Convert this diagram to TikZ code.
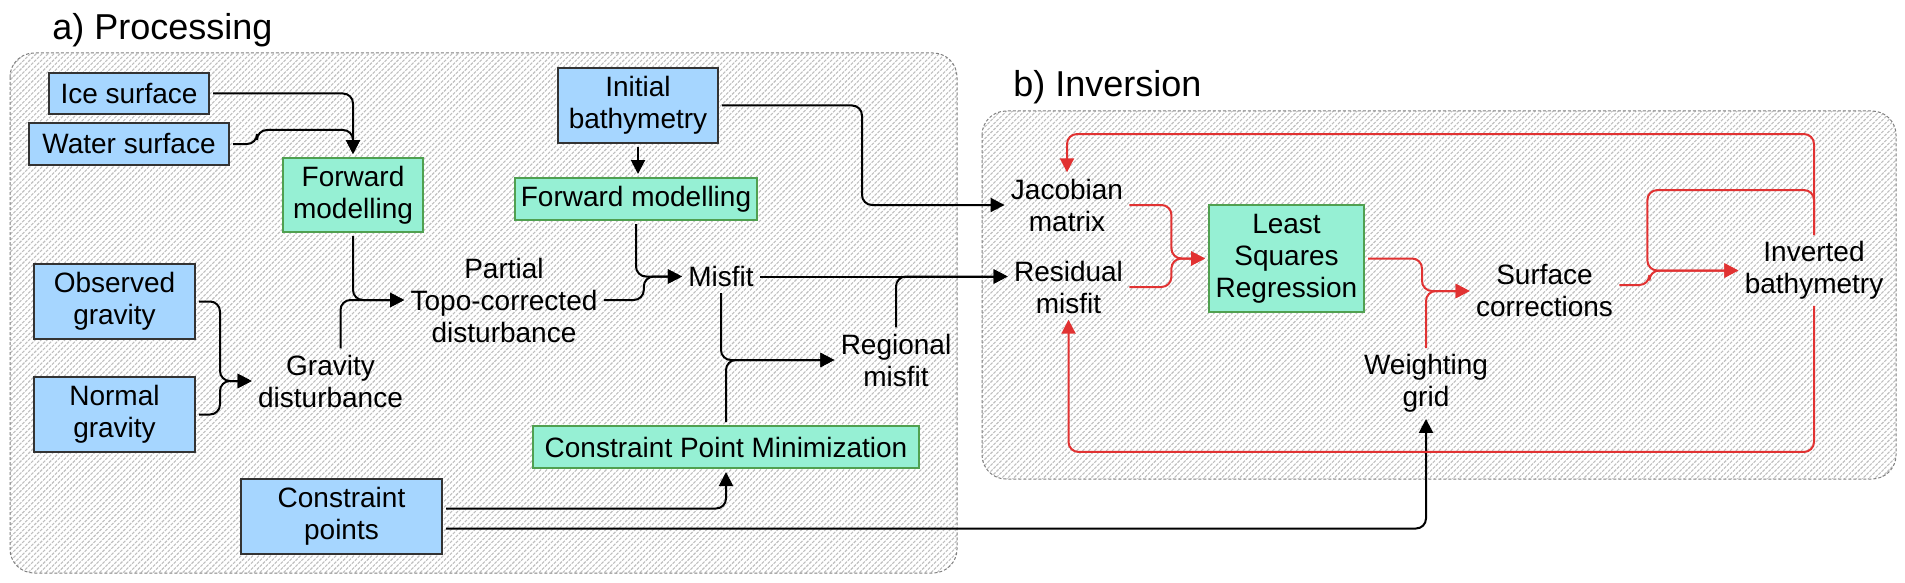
\documentclass[tikz,border=0pt]{standalone}
\usepackage{fontspec}
\setmainfont{Liberation Sans}
\usetikzlibrary{arrows.meta,patterns.meta}

\definecolor{inblue}{RGB}{166,214,255}
\definecolor{procgreen}{RGB}{150,240,212}
\definecolor{procedge}{RGB}{80,160,80}
\definecolor{loopred}{RGB}{225,50,50}

\begin{document}
\begin{tikzpicture}[x=0.5pt,y=-0.5pt,
	txt/.style={font=\fontsize{14}{16}\selectfont, align=center},
	inbox/.style={txt, draw=black!80, fill=inblue, line width=0.6pt, inner sep=2pt, outer sep=2pt},
	procbox/.style={txt, draw=procedge, fill=procgreen, line width=0.6pt, inner sep=2pt, outer sep=2pt},
	lbl/.style={txt, inner sep=3pt},
	arr/.style={line width=1pt, rounded corners=5pt, -{Triangle[length=7pt,width=7pt]}},
	redarr/.style={arr, draw=loopred},
	group/.style={draw=gray, dash pattern=on 1.5pt off 1pt, line width=0.5pt, rounded corners=12pt,
		pattern={Lines[angle=45,distance=2.1pt,line width=0.55pt]}, pattern color=gray!50},
	grouptitle/.style={font=\fontsize{18}{20}\selectfont, anchor=base west, inner sep=0pt}]
	\useasboundingbox (0,0) rectangle (1905,583);
	
	% groups
	\draw[group] (10,53) rectangle (957,573);
	\draw[group] (982,111) rectangle (1896,479);
	\node[grouptitle] (titleA) at (52,40) {a) Processing};
	\node[grouptitle] (titleB) at (1013,97) {b) Inversion};
	
	% inputs
	\node[inbox, minimum width=80pt, minimum height=20.5pt] (ice) at (129,93.5) {Ice surface};
	\node[inbox, minimum width=100pt, minimum height=21pt] (water) at (129,144) {Water surface};
	\node[inbox, minimum width=80.5pt, minimum height=37.5pt] (obs) at (114.5,301.5) {Observed\\gravity};
	\node[inbox, minimum width=80.5pt, minimum height=37.5pt] (normal) at (114.5,414.5) {Normal\\gravity};
	\node[inbox, minimum width=100.5pt, minimum height=37.5pt] (cpts) at (341.5,516.5) {Constraint\\points};
	\node[inbox, minimum width=80pt, minimum height=37.5pt] (init) at (638,105.5) {Initial\\bathymetry};
	
	% processes
	\node[procbox, minimum width=70pt, minimum height=37pt] (fwdA) at (353,195) {Forward\\modelling};
	\node[procbox, minimum width=121pt, minimum height=21pt] (fwdB) at (636,199) {Forward modelling};
	\node[procbox, minimum width=193pt, minimum height=21pt] (cpm) at (726,447) {Constraint Point Minimization};
	\node[procbox, minimum width=77.5pt, minimum height=53.5pt] (lsr) at (1286.5,258.5) {Least\\Squares\\Regression};
	
	% intermediate results
	\node[lbl] (gdist) at (330.5,381) {Gravity\\disturbance};
	\node[lbl] (ptc) at (504,300) {Partial\\Topo-corrected\\disturbance};
	\node[lbl] (misfit) at (721,276.5) {Misfit};
	\node[lbl] (regional) at (896,360) {Regional\\misfit};
	\node[lbl] (jac) at (1067,205) {Jacobian\\matrix};
	\node[lbl] (resid) at (1068.5,287) {Residual\\misfit};
	\node[lbl] (surf) at (1544.5,291) {Surface\\corrections};
	\node[lbl] (invb) at (1814,270.5) {Inverted\\bathymetry};
	\node[lbl] (weight) at (1426,383.5) {Weighting\\grid};
	
	% processing connectors
	\draw[arr] (ice.east) -| (fwdA.north);
	\draw[arr] (water.east) -- ++(24,0) -- ++(0,-14) -| (fwdA.north);
	\draw[arr] (obs.east) -- ++(21,0) |- (gdist.west);
	\draw[arr] (normal.east) -- ++(21,0) |- (gdist.west);
	\draw[arr] ([xshift=5pt]gdist.north) |- (ptc.west);
	\draw[arr] (fwdA.south) |- (ptc.west);
	\draw[arr] (init.south) -- (init.south |- fwdB.north);
	\draw[arr] (fwdB.south) |- (misfit.west);
	\draw[arr] (ptc.east) -- ++(40,0) |- (misfit.west);
	\draw[arr] (misfit.south) |- (regional.west);
	\draw[arr] (cpm.north) |- (regional.west);
	\draw[arr] ([yshift=4pt]cpts.east) -| (cpm.south);
	
	% into inversion
	\draw[arr] (init.east) -- ++(140,0) |- (jac.west);
	\draw[arr] (misfit.east) -- (misfit.east -| resid.west);
	\draw[arr] (regional.north) |- (misfit.east -| resid.west);
	\draw[arr] ([yshift=-6pt]cpts.east) -| (weight.south);
	
	% inversion loop
	\draw[redarr] (jac.east) -- ++(42,0) |- (lsr.west);
	\draw[redarr] (resid.east) -- ++(42,0) |- (lsr.west);
	\draw[redarr] (lsr.east) -- ++(54,0) |- (surf.west);
	\draw[redarr] (weight.north) |- (surf.west);
	\draw[redarr] ([yshift=3pt]surf.east) -- ++(30,0) |- (invb.west);
	\draw[redarr] (invb.north) -- ++(0,-45) -| ([xshift=-45.5pt]invb.west) -- (invb.west);
	\draw[redarr] (invb.north) -- ++(0,-101) -| (jac.north);
	\draw[redarr] (invb.south) -- ++(0,146) -| (resid.south);
\end{tikzpicture}
\end{document}
